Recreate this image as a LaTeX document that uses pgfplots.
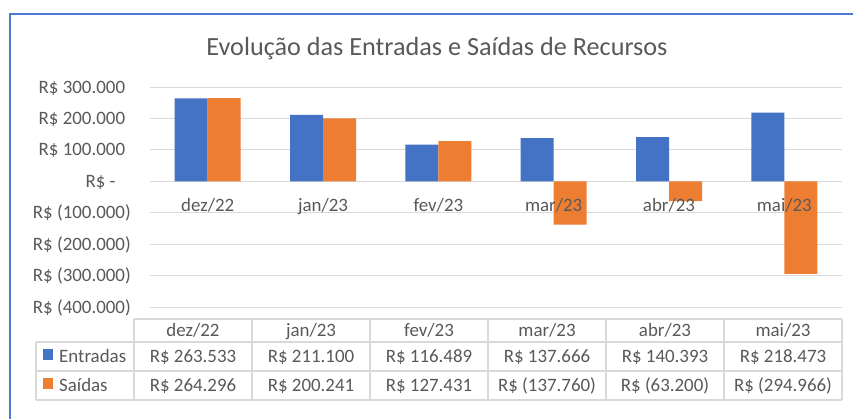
\documentclass[border=0pt]{standalone}
\usepackage{fontspec}
\setmainfont{Carlito}
\usepackage{pgfplots}
\pgfplotsset{compat=1.18}
\definecolor{cblue}{HTML}{4472C4}
\definecolor{corange}{HTML}{ED7D31}
\definecolor{gridgray}{HTML}{D9D9D9}
\definecolor{txt}{HTML}{595959}
\definecolor{frameblue}{HTML}{4A7BD0}
\newcommand{\lbl}{\fontsize{18.9bp}{22bp}\selectfont}
\pgfplotsset{base/.style={
  at={(150bp,112bp)}, anchor=south west,
  scale only axis, width=692bp, height=220bp,
  xmin=-0.5, xmax=5.5, ymin=-400000, ymax=300000,
  enlargelimits=false,
  axis x line=middle, axis y line=left,
  major tick length=0pt,
  ticklabel style={font=\lbl, text=txt},
  scaled y ticks=false,
}}
\begin{document}
\begin{tikzpicture}[x=1bp,y=1bp]
\useasboundingbox (0,0) rectangle (853,419);
\fill[white] (0,0) rectangle (853,419);
\draw[frameblue, line width=1.5bp] (10,0) -- (10,405) -- (853,405);
\node[txt, anchor=base, inner sep=0pt, font=\fontsize{26.2bp}{30bp}\selectfont] at (437,364) {Evolução das Entradas e Saídas de Recursos};
\begin{axis}[base,
  x axis line style={-, draw=gridgray, line width=1bp},
  y axis line style={draw=none},
  ymajorgrids, major grid style={draw=gridgray, line width=1bp},
  xtick=\empty,
  ytick={-400000,-300000,-200000,-100000,0,100000,200000,300000},
  yticklabels={R\$ (400.000),R\$ (300.000),R\$ (200.000),R\$ (100.000),R\$ -\hphantom{0)},R\$ 100.000\hphantom{)},R\$ 200.000\hphantom{)},R\$ 300.000\hphantom{)}},
  yticklabel style={anchor=base east, inner sep=0pt, xshift=-19bp, yshift=-6bp},
  ybar=0pt, bar width=33bp,
]
\addplot[fill=cblue, draw=none] coordinates {(0,263533) (1,211100) (2,116489) (3,137666) (4,140393) (5,218473)};
\addplot[fill=corange, draw=none] coordinates {(0,264296) (1,200241) (2,127431) (3,-137760) (4,-63200) (5,-294966)};
\end{axis}
\begin{axis}[base,
  x axis line style={draw=none},
  y axis line style={draw=none},
  ytick=\empty,
  xtick={0,1,2,3,4,5},
  xticklabels={dez/22,jan/23,fev/23,mar/23,abr/23,mai/23},
  xticklabel style={anchor=base, yshift=-30bp, inner sep=0pt},
]
\end{axis}
% data table
\begin{scope}[gridgray, line width=1.3bp]
\draw (134,100) -- (842,100);
\draw (36,77) -- (842,77);
\draw (36,48) -- (842,48);
\draw (36,19) -- (842,19);
\draw (36,77) -- (36,19);
\foreach \x in {134,252,370,488,606,724,842} {\draw (\x,100) -- (\x,19);}
\end{scope}
\begin{scope}[every node/.style={txt, font=\lbl, inner sep=0pt, anchor=base}]
\foreach \x/\t in {193/dez\slash 22,311/jan\slash 23,429/fev\slash 23,547/mar\slash 23,665/abr\slash 23,783/mai\slash 23} {\node at (\x,83) {\t};}
\foreach \x/\t in {193/R\$ 263.533,311/R\$ 211.100,429/R\$ 116.489,547/R\$ 137.666,665/R\$ 140.393,783/R\$ 218.473} {\node at (\x,57) {\t};}
\foreach \x/\t in {193/R\$ 264.296,311/R\$ 200.241,429/R\$ 127.431,547/R\$ (137.760),665/R\$ (63.200),783/R\$ (294.966)} {\node at (\x,28) {\t};}
\node[anchor=base west] at (59,57) {Entradas};
\node[anchor=base west] at (59,28) {Saídas};
\end{scope}
\fill[cblue] (43,59) rectangle (53,70);
\fill[corange] (43,30) rectangle (53,41);
\end{tikzpicture}
\end{document}
